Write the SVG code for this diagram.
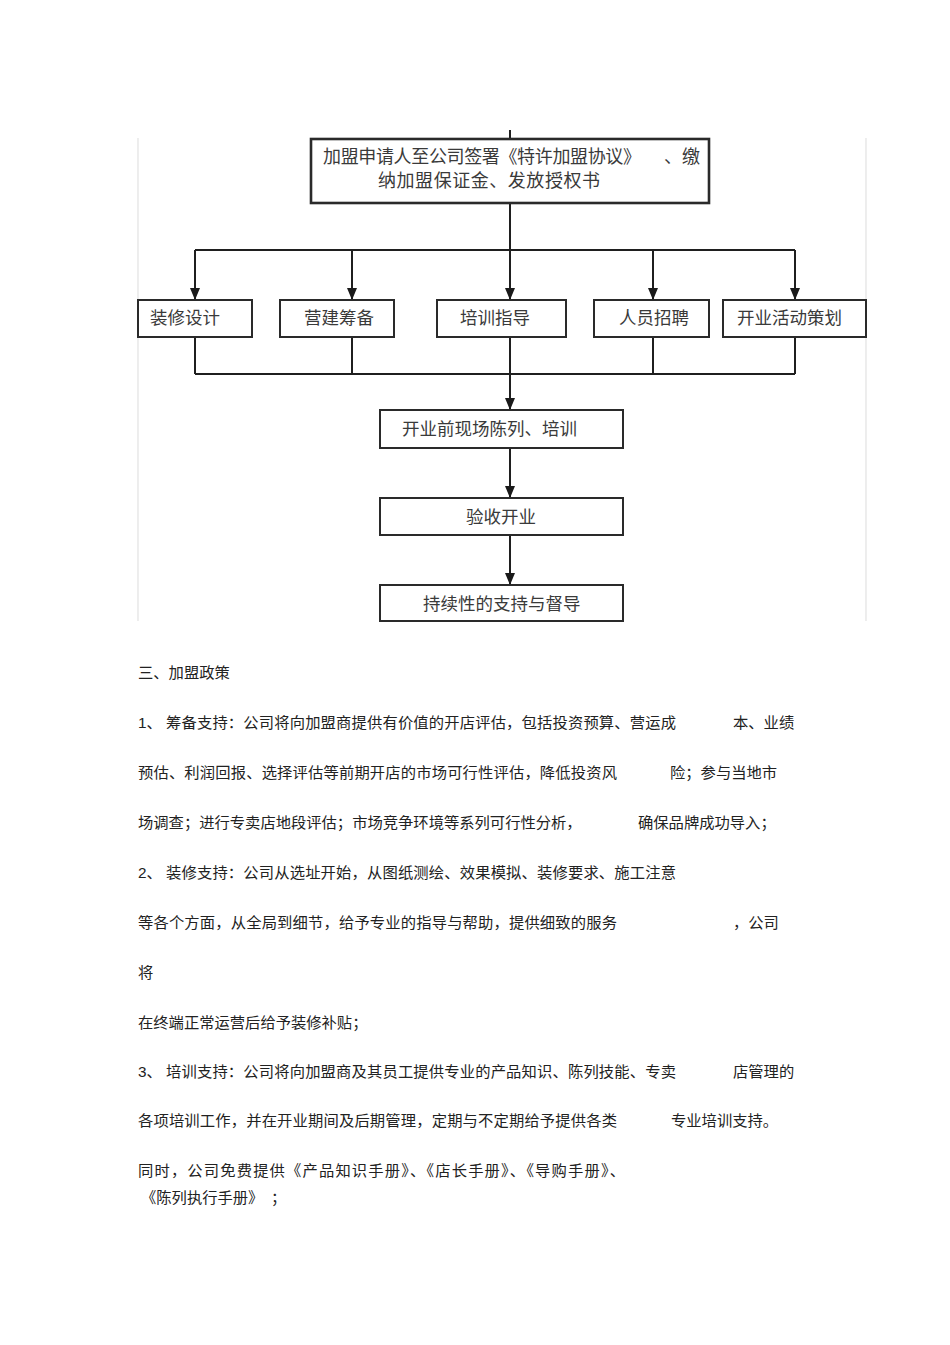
<svg xmlns="http://www.w3.org/2000/svg" width="950" height="1345" viewBox="0 0 950 1345">
<defs>
<marker id="arr" markerWidth="12" markerHeight="10" refX="12" refY="5" orient="auto" markerUnits="userSpaceOnUse" viewBox="0 0 12 10">
<path d="M0,0 L12,5 L0,10 Z" fill="#1a1a1a"/>
</marker>
<style>
.box{fill:#fff;stroke:#2a2a2a;stroke-width:2}
.bt{font-family:"Liberation Serif","Noto Sans CJK SC",serif;font-size:17.5px;fill:#3a3a3a}
.ln{fill:none;stroke:#1f1f1f;stroke-width:2}
.fr{stroke:#e2e2e2;stroke-width:1.2;fill:none}
.p{font-family:"Liberation Sans","Noto Sans CJK SC",sans-serif;font-size:15.3px;fill:#222}
</style>
</defs>
<rect width="950" height="1345" fill="#fff"/>

<g id="frame">
<line class="fr" x1="138" y1="138" x2="138" y2="621"/>
<line class="fr" x1="866" y1="138" x2="866" y2="621"/>
</g>

<g id="connectors">
<line class="ln" x1="510" y1="130" x2="510" y2="139"/>
<line class="ln" x1="510" y1="203" x2="510" y2="300" marker-end="url(#arr)"/>
<line class="ln" x1="195" y1="250" x2="795" y2="250"/>
<line class="ln" x1="195" y1="250" x2="195" y2="300" marker-end="url(#arr)"/>
<line class="ln" x1="352" y1="250" x2="352" y2="300" marker-end="url(#arr)"/>
<line class="ln" x1="653" y1="250" x2="653" y2="300" marker-end="url(#arr)"/>
<line class="ln" x1="795" y1="250" x2="795" y2="300" marker-end="url(#arr)"/>
<line class="ln" x1="195" y1="337" x2="195" y2="374"/>
<line class="ln" x1="352" y1="337" x2="352" y2="374"/>
<line class="ln" x1="653" y1="337" x2="653" y2="374"/>
<line class="ln" x1="795" y1="337" x2="795" y2="374"/>
<line class="ln" x1="195" y1="374" x2="795" y2="374"/>
<line class="ln" x1="510" y1="337" x2="510" y2="410" marker-end="url(#arr)"/>
<line class="ln" x1="510" y1="448" x2="510" y2="498" marker-end="url(#arr)"/>
<line class="ln" x1="510" y1="535" x2="510" y2="585" marker-end="url(#arr)"/>
</g>

<g id="n-top">
<rect class="box" x="311" y="139" width="398" height="64" style="stroke-width:2.6"/>
<text class="bt" x="323" y="163" style="font-size:18px" textLength="318" lengthAdjust="spacing">加盟申请人至公司签署《特许加盟协议》</text>
<text class="bt" x="664" y="163" style="font-size:18px">、缴</text>
<text class="bt" x="378" y="187" style="font-size:18px" textLength="222" lengthAdjust="spacing">纳加盟保证金、发放授权书</text>
</g>
<g id="n-zhuangxiu">
<rect class="box" x="138" y="300" width="114" height="37"/>
<text class="bt" x="150" y="324">装修设计</text>
</g>
<g id="n-yingjian">
<rect class="box" x="280" y="300" width="114" height="37"/>
<text class="bt" x="304" y="324">营建筹备</text>
</g>
<g id="n-peixun">
<rect class="box" x="437" y="300" width="129" height="37"/>
<text class="bt" x="460" y="324">培训指导</text>
</g>
<g id="n-renyuan">
<rect class="box" x="594" y="300" width="115" height="37"/>
<text class="bt" x="619" y="324">人员招聘</text>
</g>
<g id="n-kaiye">
<rect class="box" x="723" y="300" width="143" height="37"/>
<text class="bt" x="737" y="324">开业活动策划</text>
</g>
<g id="n-chenlie">
<rect class="box" x="380" y="410" width="243" height="38"/>
<text class="bt" x="402" y="435">开业前现场陈列、培训</text>
</g>
<g id="n-yanshou">
<rect class="box" x="380" y="498" width="243" height="37"/>
<text class="bt" x="466" y="523">验收开业</text>
</g>
<g id="n-chixu">
<rect class="box" x="380" y="585" width="243" height="36"/>
<text class="bt" x="423" y="610">持续性的支持与督导</text>
</g>

<g id="body">
<text class="p" x="138" y="678">三、加盟政策</text>
<text class="p" x="138" y="728">1、</text>
<text class="p" x="166" y="728" textLength="510" lengthAdjust="spacing">筹备支持：公司将向加盟商提供有价值的开店评估，包括投资预算、营运成</text>
<text class="p" x="733" y="728">本、业绩</text>
<text class="p" x="138" y="778" textLength="479" lengthAdjust="spacing">预估、利润回报、选择评估等前期开店的市场可行性评估，降低投资风</text>
<text class="p" x="670" y="778">险；参与当地市</text>
<text class="p" x="138" y="828">场调查；进行专卖店地段评估；市场竞争环境等系列可行性分析，</text>
<text class="p" x="638" y="828">确保品牌成功导入；</text>
<text class="p" x="138" y="878">2、</text>
<text class="p" x="166" y="878" textLength="510" lengthAdjust="spacing">装修支持：公司从选址开始，从图纸测绘、效果模拟、装修要求、施工注意</text>
<text class="p" x="138" y="928" textLength="479" lengthAdjust="spacing">等各个方面，从全局到细节，给予专业的指导与帮助，提供细致的服务</text>
<text class="p" x="733" y="928">，公司</text>
<text class="p" x="138" y="978">将</text>
<text class="p" x="138" y="1028">在终端正常运营后给予装修补贴；</text>
<text class="p" x="138" y="1077">3、</text>
<text class="p" x="166" y="1077" textLength="510" lengthAdjust="spacing">培训支持：公司将向加盟商及其员工提供专业的产品知识、陈列技能、专卖</text>
<text class="p" x="733" y="1077">店管理的</text>
<text class="p" x="138" y="1126" textLength="479" lengthAdjust="spacing">各项培训工作，并在开业期间及后期管理，定期与不定期给予提供各类</text>
<text class="p" x="671" y="1126">专业培训支持。</text>
<text class="p" x="138" y="1176" textLength="487" lengthAdjust="spacing">同时，公司免费提供《产品知识手册》、《店长手册》、《导购手册》、</text>
<text class="p" x="141" y="1203">《陈列执行手册》　；</text>
</g>
</svg>
